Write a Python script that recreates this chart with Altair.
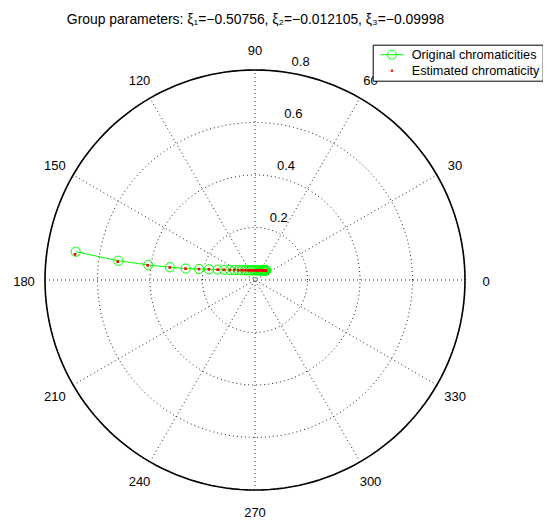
import math
import altair as alt
import pandas as pd

# ---- data (cartesian coordinates in data units) ----
orig_x = [-0.6830, -0.5208, -0.4065, -0.3238, -0.2640, -0.2133, -0.1752, -0.1421,
          -0.1181, -0.0952, -0.0789, -0.0636, -0.0507, -0.0381, -0.0274, -0.0179,
          -0.0095, -0.0019, 0.0050, 0.0110, 0.0164, 0.0210, 0.0251, 0.0286,
          0.0316, 0.0343, 0.0366, 0.0385, 0.0400, 0.0415, 0.0427]
orig_y = [0.1078, 0.0735, 0.0571, 0.0484, 0.0438, 0.0419, 0.0408, 0.0396,
          0.0389, 0.0381, 0.0378, 0.0375, 0.0373, 0.0371, 0.0370, 0.0369,
          0.0368, 0.0368, 0.0367, 0.0367, 0.0367, 0.0366, 0.0366, 0.0366,
          0.0366, 0.0366, 0.0366, 0.0366, 0.0366, 0.0366, 0.0366]
est_x = [-0.6857, -0.5230, -0.4088, -0.3245, -0.2645, -0.2137, -0.1755, -0.1423,
         -0.1183, -0.0954, -0.0790, -0.0637, -0.0508, -0.0382, -0.0275, -0.0180,
         -0.0096, -0.0020, 0.0049, 0.0109, 0.0163, 0.0209, 0.0250, 0.0285,
         0.0315, 0.0342, 0.0365, 0.0384, 0.0399, 0.0414, 0.0426]
est_y = [0.0979, 0.0697, 0.0560, 0.0478, 0.0434, 0.0416, 0.0405, 0.0394,
         0.0387, 0.0380, 0.0377, 0.0374, 0.0372, 0.0370, 0.0369, 0.0368,
         0.0367, 0.0367, 0.0366, 0.0366, 0.0366, 0.0365, 0.0365, 0.0365,
         0.0365, 0.0365, 0.0365, 0.0365, 0.0365, 0.0365, 0.0365]

series_names = ["Original chromaticities", "Estimated chromaticity"]
series_colors = ["#00ff00", "#ff0000"]
ring_ticks = [0.2, 0.4, 0.6, 0.8]
spoke_angles = [0, 30, 60, 90, 120, 150]
angle_ticks = [0, 30, 60, 90, 120, 150, 180, 210, 240, 270, 300, 330]
rmax = 0.8
title_text = "Group parameters: ξ₁=−0.50756, ξ₂=−0.012105, ξ₃=−0.09998"
FONT = "Liberation Sans"

# ---- tables ----
df_orig = pd.DataFrame({"x": orig_x, "y": orig_y, "i": range(len(orig_x))})
df_est = pd.DataFrame({"x": est_x, "y": est_y})
df_leg = pd.concat([
    df_orig[["x", "y"]].assign(series=series_names[0]),
    df_est.assign(series=series_names[1]),
])

ring_rows = []
for r in ring_ticks:
    for a in range(0, 361, 2):
        t = math.radians(a)
        ring_rows.append({"ring": r, "i": a, "x": r * math.cos(t), "y": r * math.sin(t)})
df_rings = pd.DataFrame(ring_rows)
df_outer = df_rings[df_rings["ring"] == rmax]

df_spokes = pd.DataFrame([
    {"x": -rmax * math.cos(math.radians(a)), "y": -rmax * math.sin(math.radians(a)),
     "x2": rmax * math.cos(math.radians(a)), "y2": rmax * math.sin(math.radians(a))}
    for a in spoke_angles])

df_alab = pd.DataFrame([
    {"x": 1.1 * rmax * math.cos(math.radians(a)), "y": 1.1 * rmax * math.sin(math.radians(a)),
     "t": str(a)} for a in angle_ticks])

df_rlab = pd.DataFrame([
    {"x": (r + 0.01) * math.cos(math.radians(82)), "y": (r + 0.01) * math.sin(math.radians(82)),
     "t": f"{r:g}"} for r in ring_ticks])

XS = alt.Scale(domain=[-0.8, 0.8], range=[37, 457], nice=False, zero=False)
YS = alt.Scale(domain=[-0.8, 0.8], range=[442, 22], nice=False, zero=False)


def X(f="x"):
    return alt.X(f"{f}:Q", scale=XS, axis=None)


def Y(f="y"):
    return alt.Y(f"{f}:Q", scale=YS, axis=None)


rings = alt.Chart(df_rings).mark_line(
    color="#222", strokeWidth=1, strokeDash=[1, 3]
).encode(x=X(), y=Y(), detail="ring:N", order="i:Q")

outer = alt.Chart(df_outer).mark_line(
    color="black", strokeWidth=1.6
).encode(x=X(), y=Y(), order="i:Q")

spokes = alt.Chart(df_spokes).mark_rule(
    color="#222", strokeWidth=1, strokeDash=[1, 3]
).encode(x=X(), y=Y(), x2="x2:Q", y2="y2:Q")

alab = alt.Chart(df_alab).mark_text(
    font=FONT, fontSize=13, color="black", align="center", baseline="middle", dy=1.5
).encode(x=X(), y=Y(), text="t:N")

rlab = alt.Chart(df_rlab).mark_text(
    font=FONT, fontSize=13, color="black", align="left", baseline="bottom", dx=7
).encode(x=X(), y=Y(), text="t:N")

line = alt.Chart(df_orig).mark_line(
    color=series_colors[0], strokeWidth=1
).encode(x=X(), y=Y(), order="i:Q")

circles = alt.Chart(df_orig).mark_point(
    filled=False, color=series_colors[0], size=85, strokeWidth=1, opacity=1
).encode(x=X(), y=Y())

dots = alt.Chart(df_est).mark_square(
    color=series_colors[1], size=7, opacity=1
).encode(x=X(), y=Y())

line_circle_path = "M-1.77,0L1.77,0M0.69,0A0.69,0.69,0,1,1,-0.69,0A0.69,0.69,0,1,1,0.69,0"
dot_path = "M-0.12,-0.12L0.12,-0.12L0.12,0.12L-0.12,0.12Z"

leg = alt.Legend(
    orient="none", legendX=364.7, legendY=-3.3, title=None,
    symbolSize=169, symbolStrokeWidth=1, symbolOpacity=1,
    labelFont=FONT, labelFontSize=12.7, labelColor="black",
    strokeColor="black", fillColor="white", padding=3, rowPadding=2,
    symbolOffset=9.3, labelOffset=12.7, labelLimit=300,
)

legend_host = alt.Chart(df_leg).mark_point(filled=False, opacity=0).encode(
    x=X(), y=Y(),
    color=alt.Color("series:N", scale=alt.Scale(domain=series_names, range=series_colors), legend=leg),
    shape=alt.Shape("series:N", scale=alt.Scale(domain=series_names, range=[line_circle_path, dot_path]), legend=leg),
)

chart = alt.layer(
    rings, outer, spokes, alab, rlab, line, circles, dots, legend_host
).properties(
    width=535, height=473,
    autosize=alt.AutoSizeParams(type="none"),
    padding={"left": 0, "top": 40, "right": 0, "bottom": 0},
    title=alt.Title(title_text, font=FONT, fontSize=13.9, fontWeight="normal",
                    anchor="middle", frame="group", offset=6, baseline="alphabetic",
                    dx=-20, color="black"),
).configure_view(stroke=None)

chart.save("out.html", embed_options={"renderer": "svg", "actions": False})
